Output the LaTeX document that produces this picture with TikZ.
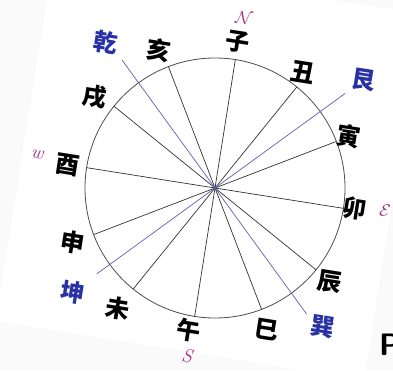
\documentclass[tikz,border=0pt]{standalone}
\usepackage{fontspec}
\newfontfamily\cjk{Noto Sans CJK SC}
\definecolor{guablue}{RGB}{40,50,165}
\definecolor{lineblue}{RGB}{95,95,175}
\definecolor{dirmag}{RGB}{170,45,135}
\begin{document}
\begin{tikzpicture}[x=1pt,y=1pt,
  zhi/.style={font=\cjk\bfseries\fontsize{24}{24}\selectfont, text=black, rotate=-9, inner sep=0pt},
  gua/.style={zhi, text=guablue},
  dirlbl/.style={font=\fontsize{19}{19}\selectfont, text=dirmag, rotate=-9, inner sep=0pt},
  spoke/.style={line width=0.7pt, draw=black!80},
  axisline/.style={line width=0.7pt, draw=lineblue},
  rim/.style={line width=0.8pt, draw=black!70}]
\useasboundingbox (0,0) rectangle (393,370);
\fill[black!2] (0,0) rectangle (393,370);
\fill[white] (54,414) -- (422,356) -- (364,-10) -- (-4,49) -- cycle;
\coordinate (c) at (215,182);
\draw[rim] (c) circle[radius=130pt];
\foreach \k in {0,...,11} {
  \path (c) ++({81-30*\k}:130) coordinate (s\k);
  \draw[spoke] (c) -- (s\k);
}
\path (c) ++(36:161) coordinate (gen);
\path (c) ++(-54:156) coordinate (xun);
\path (c) ++(-144:146) coordinate (kun);
\path (c) ++(126:158) coordinate (qian);
\draw[axisline] (c) -- (gen);
\draw[axisline] (c) -- (xun);
\draw[axisline] (c) -- (kun);
\draw[axisline] (c) -- (qian);
% earthly branches
\node[zhi] (zi) at (238,328) {子};
\node[zhi] (chou) at (303,298) {丑};
\node[zhi] (yin) at (349,234) {寅};
\node[zhi] (mao) at (355,161) {卯};
\node[zhi] (chen) at (330,88) {辰};
\node[zhi] (si) at (267,40) {巳};
\node[zhi] (wu) at (189,40) {午};
\node[zhi] (wei) at (118,62) {未};
\node[zhi] (shen) at (73,128) {申};
\node[zhi] (you) at (68,205) {酉};
\node[zhi] (xu) at (95,273) {戌};
\node[zhi] (hai) at (159,320) {亥};
% trigrams
\node[gua] (lgen) at (364,290) {艮};
\node[gua] (lxun) at (323,43) {巽};
\node[gua] (lkun) at (73,78) {坤};
\node[gua] (lqian) at (106,328) {乾};
% directions
\node[dirlbl] (n) at (244,352) {$\mathcal{N}$};
\node[dirlbl] (e) at (385,159) {$\mathcal{E}$};
\node[dirlbl] (s) at (187,14) {$\mathit{S}$};
\node[dirlbl] (w) at (37,216) {$\mathit{w}$};
\node[font=\sffamily\bfseries\fontsize{31}{31}\selectfont, anchor=base west, inner sep=0pt] (p) at (379,15) {P};
\end{tikzpicture}
\end{document}
